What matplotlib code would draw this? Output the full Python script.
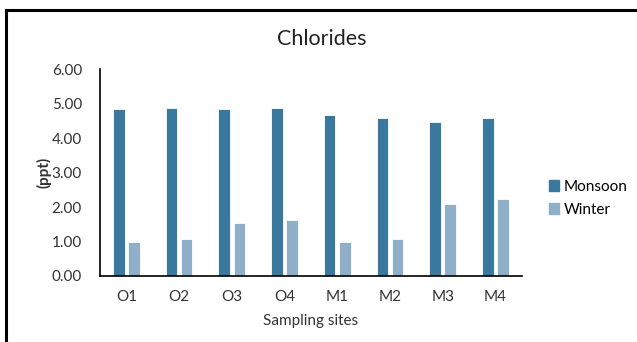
import matplotlib
matplotlib.use("Agg")
import matplotlib.pyplot as plt
from matplotlib.lines import Line2D
import numpy as np

SITES = ["O1", "O2", "O3", "O4", "M1", "M2", "M3", "M4"]
MONSOON = [4.83, 4.87, 4.83, 4.87, 4.68, 4.59, 4.48, 4.59]
WINTER = [0.98, 1.08, 1.54, 1.62, 0.98, 1.06, 2.08, 2.22]

C_MON = "#3A799D"
C_WIN = "#8FAEC8"

plt.rcParams["font.family"] = ["Lato", "DejaVu Sans"]

fig = plt.figure(figsize=(6.37, 3.42), dpi=100)
ax = fig.add_axes([0.157, 0.193, 0.662, 0.605])

x = np.arange(len(SITES))
w = 0.22
gap = 0.065
ax.bar(x - (w + gap) / 2, MONSOON, w, color=C_MON, edgecolor="white",
       linewidth=0.6, label="Monsoon")
ax.bar(x + (w + gap) / 2, WINTER, w, color=C_WIN, edgecolor="white",
       linewidth=0.6, label="Winter")

ax.set_xlim(-0.5, len(SITES) - 0.5)
ax.set_ylim(0, 6)
ax.set_yticks(np.arange(0, 6.01, 1))
ax.set_yticklabels([f"{v:.2f}" for v in np.arange(0, 6.01, 1)])
ax.set_xticks(x)
ax.set_xticklabels(SITES)
ax.tick_params(axis="both", length=0, labelsize=11, colors="#333333")
ax.tick_params(axis="y", pad=13)
ax.tick_params(axis="x", pad=10)
for s in ["top", "right"]:
    ax.spines[s].set_visible(False)
for s in ["left", "bottom"]:
    ax.spines[s].set_color("black")
    ax.spines[s].set_linewidth(1.2)

ax.set_ylabel("(ppt)", fontsize=11, fontweight="bold", color="#333333", labelpad=0)
ax.set_xlabel("Sampling sites", fontsize=11, color="#333333", labelpad=7)
fig.text(0.505, 0.887, "Chlorides", ha="center", va="center", fontsize=15.5,
         color="#222222")

handles = [plt.Rectangle((0, 0), 1, 1, color=C_MON),
           plt.Rectangle((0, 0), 1, 1, color=C_WIN)]
fig.legend(handles, ["Monsoon", "Winter"], loc="center left",
           bbox_to_anchor=(0.84, 0.42), frameon=False, fontsize=11,
           handlelength=0.65, handleheight=0.65, handletextpad=0.3,
           labelspacing=0.6)

# frame lines around the chart
fig.add_artist(Line2D([6 / 637, 1], [1 - 10 / 342, 1 - 10 / 342],
                      transform=fig.transFigure, color="black", lw=2.2))
fig.add_artist(Line2D([6 / 637, 6 / 637], [0, 1 - 10 / 342],
                      transform=fig.transFigure, color="black", lw=2.2))

fig.savefig("out.png", dpi=100)
